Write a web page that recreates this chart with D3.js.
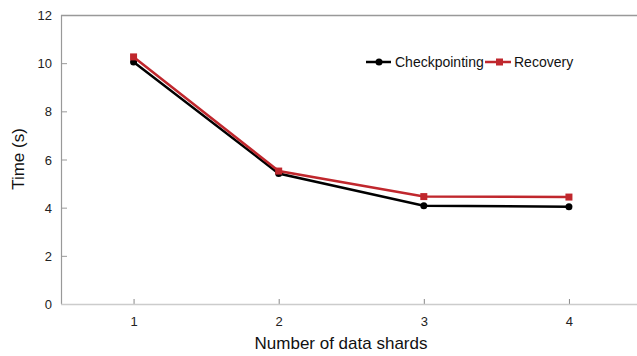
<!DOCTYPE html>
<html>
<head>
<meta charset="utf-8">
<script src="https://cdn.jsdelivr.net/npm/d3@7"></script>
<style>
  body { margin: 0; background: #fff; }
  svg { display: block; font-family: "Liberation Sans", Arial, sans-serif; }
</style>
</head>
<body>
<svg id="chart" width="637" height="356"></svg>
<script>
const shards = [1, 2, 3, 4];
const checkpointing = [10.05, 5.42, 4.08, 4.04];
const recovery = [10.26, 5.52, 4.46, 4.44];
const yTicks = [0, 2, 4, 6, 8, 10, 12];
const seriesNames = ['Checkpointing', 'Recovery'];

const svg = d3.select('#chart');
const m = { l: 61, t: 15, r: 641.5, b: 304 };

const x = d3.scaleLinear().domain([0.5, 4.5]).range([m.l, m.r]);
const y = d3.scaleLinear().domain([0, 12]).range([m.b, m.t]);

// frame: top line, left axis, bottom axis
svg.append('line')
    .attr('x1', m.l).attr('x2', 637).attr('y1', m.t + 0.5).attr('y2', m.t + 0.5)
    .attr('stroke', '#999').attr('stroke-width', 1.5);

// y axis with inward ticks
const yAxis = svg.append('g')
    .attr('transform', 'translate(' + m.l + ',0)')
    .call(d3.axisRight(y).tickValues(yTicks).tickSize(6).tickFormat(d3.format('d')));
yAxis.select('.domain').remove();
yAxis.selectAll('.tick line').attr('stroke', '#999');
yAxis.selectAll('.tick text').remove();
yAxis.selectAll('.tick').append('text')
    .attr('x', -9).attr('dy', '0.35em')
    .attr('text-anchor', 'end')
    .attr('fill', '#222').attr('font-size', 13)
    .text(d => d);

svg.append('line')
    .attr('x1', m.l + 0.5).attr('x2', m.l + 0.5).attr('y1', m.t).attr('y2', m.b)
    .attr('stroke', '#999').attr('stroke-width', 1.2);

// x axis with inward ticks
const xAxis = svg.append('g')
    .attr('transform', 'translate(0,' + m.b + ')')
    .call(d3.axisTop(x).tickValues(shards).tickSize(5).tickFormat(d3.format('d')));
xAxis.select('.domain').remove();
xAxis.selectAll('.tick line').attr('stroke', '#888');
xAxis.selectAll('.tick text').remove();
xAxis.selectAll('.tick').append('text')
    .attr('y', 22)
    .attr('text-anchor', 'middle')
    .attr('fill', '#222').attr('font-size', 13)
    .text(d => d);

svg.append('line')
    .attr('x1', m.l).attr('x2', 637).attr('y1', m.b + 0.5).attr('y2', m.b + 0.5)
    .attr('stroke', '#ccc').attr('stroke-width', 1.5);

// axis titles
svg.append('text')
    .attr('transform', 'translate(24,159) rotate(-90)')
    .attr('text-anchor', 'middle')
    .attr('font-size', 17).attr('fill', '#111')
    .text('Time (s)');

svg.append('text')
    .attr('x', 341).attr('y', 349)
    .attr('text-anchor', 'middle')
    .attr('font-size', 17).attr('fill', '#111')
    .text('Number of data shards');

// lines
const line = d3.line().x((d, i) => x(shards[i])).y(d => y(d));

svg.append('path').datum(checkpointing)
    .attr('d', line).attr('fill', 'none')
    .attr('stroke', '#000').attr('stroke-width', 2.5);
svg.selectAll('.cp').data(checkpointing).enter()
    .append('circle').attr('class', 'cp')
    .attr('cx', (d, i) => x(shards[i])).attr('cy', d => y(d))
    .attr('r', 3.5).attr('fill', '#000');

svg.append('path').datum(recovery)
    .attr('d', line).attr('fill', 'none')
    .attr('stroke', '#c0272d').attr('stroke-width', 2.5);
svg.selectAll('.rc').data(recovery).enter()
    .append('rect').attr('class', 'rc')
    .attr('x', (d, i) => x(shards[i]) - 3.5).attr('y', d => y(d) - 3.5)
    .attr('width', 7).attr('height', 7).attr('fill', '#c0272d');

// legend
const legend = svg.append('g').attr('transform', 'translate(366,62)');
legend.append('line').attr('x1', 0).attr('x2', 25).attr('stroke', '#000').attr('stroke-width', 2.5);
legend.append('circle').attr('cx', 13).attr('r', 3.5).attr('fill', '#000');
legend.append('text').attr('x', 29).attr('dy', '0.35em')
    .attr('font-size', 14).attr('fill', '#111').text(seriesNames[0]);
legend.append('line').attr('x1', 119).attr('x2', 145).attr('stroke', '#c0272d').attr('stroke-width', 2.5);
legend.append('rect').attr('x', 130).attr('y', -3.5).attr('width', 7).attr('height', 7).attr('fill', '#c0272d');
legend.append('text').attr('x', 148).attr('dy', '0.35em')
    .attr('font-size', 14).attr('fill', '#111').text(seriesNames[1]);
</script>
</body>
</html>
